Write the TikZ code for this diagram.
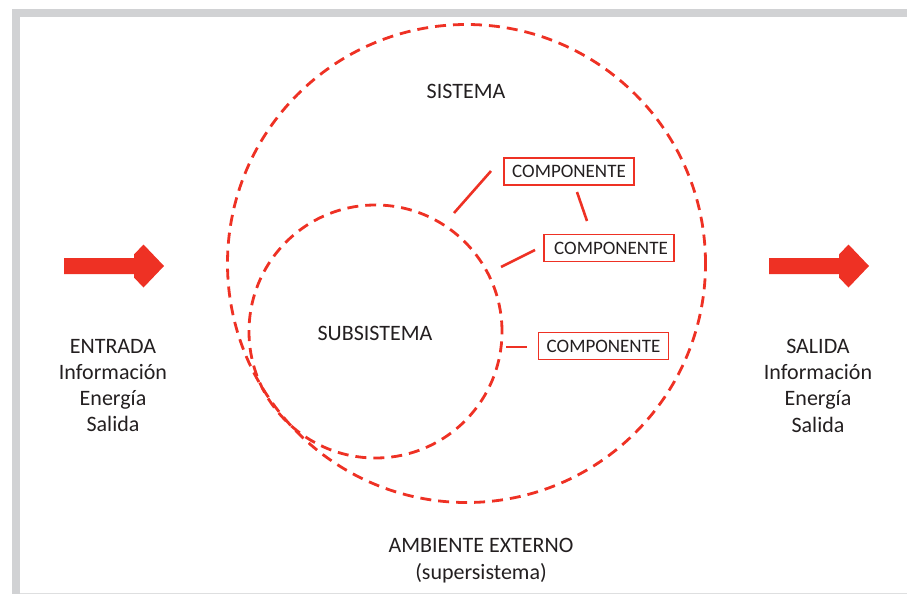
\documentclass[tikz,border=0pt]{standalone}
\usepackage{fontspec}
\setmainfont{Carlito}
\begin{document}
\definecolor{sysred}{RGB}{238,49,36}
\definecolor{inkgray}{RGB}{35,31,32}
\definecolor{framegray}{RGB}{209,210,212}
\definecolor{edgegray}{RGB}{222,223,224}
\begin{tikzpicture}[x=1pt,y=-1pt,
  dashring/.style={circle,draw=sysred,line width=2.8pt,dash pattern=on 11pt off 7pt,
    inner sep=0pt,outer sep=0pt},
  label text/.style={text=inkgray,font=\fontsize{22}{26.3}\selectfont,align=center,
    inner sep=0pt,outer sep=0pt},
  compbox/.style={draw=sysred,line width=1.3pt,text=inkgray,
    font=\fontsize{19}{22}\selectfont,minimum width=130pt,minimum height=27pt,
    inner sep=0pt,outer sep=0pt},
  compline/.style={draw=sysred,line width=2.6pt},
  bigarrow/.pic={\fill[sysred] (0,-8) -- (70,-8) -- (70,-11.5) -- (79.5,-21.5)
    -- (100,0) -- (79.5,21.5) -- (70,11.5) -- (70,8) -- (0,8) -- cycle;}]
% page size
\useasboundingbox (0,0) rectangle (907,594);
% frame
\fill[framegray] (12,9) rectangle (907,17);
\fill[framegray] (12,9) rectangle (20,594);
\fill[edgegray] (20,592.5) rectangle (907,594);

% system and subsystem
\node[dashring,minimum size=478pt] (sys) at (466.5,263.5) {};
\node[dashring,minimum size=253pt] (sub) at (375.5,331.5) {};

% labels
\node[label text] (sistema) at (466,91) {SISTEMA};
\node[label text] (subsistema) at (375,333) {SUBSISTEMA};
\node[label text] (entrada) at (113,385.5) {ENTRADA\\Información\\Energía\\Salida};
\node[label text] (salida) at (818,385.5) {SALIDA\\Información\\Energía\\Salida};
\node[label text] (ambiente) at (481,560.5) {AMBIENTE EXTERNO\\(supersistema)};

% components
\node[compbox] (comp1) at (569,171.5) {COMPONENTE};
\node[compbox] (comp2) at (609,248) {\hspace*{4pt}COMPONENTE};
\node[compbox] (comp3) at (603.5,346) {COMPONENTE};

% connector ends
\coordinate (l1a) at (454,213);
\coordinate (l1b) at (491,171);
\coordinate (l2a) at (577,192);
\coordinate (l2b) at (587,221);
\coordinate (l3a) at (501,267);
\coordinate (l3b) at (535,250);
\coordinate (l4a) at (506,347);
\coordinate (l4b) at (527,347);
\draw[compline] (l1a) -- (l1b);
\draw[compline] (l2a) -- (l2b);
\draw[compline] (l3a) -- (l3b);
\draw[compline] (l4a) -- (l4b);

% input and output arrows
\pic at (64,266) {bigarrow};
\pic at (769,266) {bigarrow};
\end{tikzpicture}
\end{document}
